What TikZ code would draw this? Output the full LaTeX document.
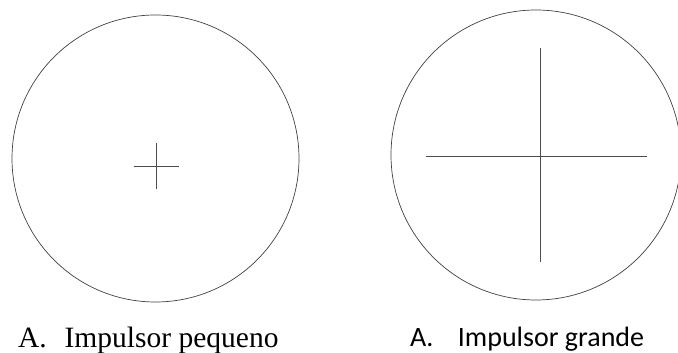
\documentclass[tikz,border=0pt]{standalone}
\usepackage{fontspec}
\setmainfont{Liberation Serif}
\newfontfamily\calib{Carlito}
\begin{document}
\begin{tikzpicture}[x=1pt,y=1pt,
  rim/.style={draw=black!75,line width=0.7pt},
  crossline/.style={draw=black!70,line width=0.7pt},
  lab/.style={anchor=base west,inner sep=0pt,outer sep=0pt}]
\useasboundingbox (0,0) rectangle (678,353);
% left impeller
\coordinate (cl) at (155.5,194.5);
\draw[rim] (cl) circle[radius=143.5];
\coordinate (lh1) at (133.5,187); \coordinate (lh2) at (178.5,187);
\coordinate (lv1) at (156,209.5); \coordinate (lv2) at (156,164);
\draw[crossline] (lh1) -- (lh2);
\draw[crossline] (lv1) -- (lv2);
\node[lab,font=\fontsize{29.5}{32}\selectfont] (tl) at (18,5) {A.\hspace{18pt}Impulsor pequeno};
% right impeller
\coordinate (cr) at (536,198);
\draw[rim] (cr) circle[radius=145];
\coordinate (rh1) at (426,197); \coordinate (rh2) at (647,197);
\coordinate (rv1) at (540,305); \coordinate (rv2) at (540,91);
\draw[crossline] (rh1) -- (rh2);
\draw[crossline] (rv1) -- (rv2);
\node[lab,font=\calib\fontsize{28}{30}\selectfont] (tr) at (410,6) {A.\hspace{24.5pt}Impulsor grande};
\end{tikzpicture}
\end{document}
